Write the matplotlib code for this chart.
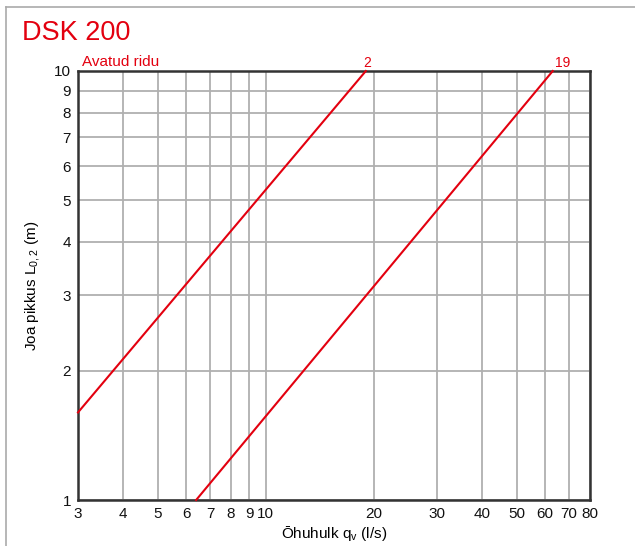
import matplotlib
matplotlib.use("Agg")
import matplotlib.pyplot as plt
from matplotlib.lines import Line2D

plt.rcParams['font.family'] = ['Liberation Sans', 'DejaVu Sans']

# Data: line endpoints (q in l/s, L in m)
series_labels = ["2", "19"]
line2_q = [3.0, 19.0]
line2_L = [1.6, 10.0]
line19_q = [6.4, 63.0]
line19_L = [1.0, 10.0]

x_ticks = [3, 4, 5, 6, 7, 8, 9, 10, 20, 30, 40, 50, 60, 70, 80]
y_ticks = [1, 2, 3, 4, 5, 6, 7, 8, 9, 10]

red = "#e3000f"

fig = plt.figure(figsize=(6.35, 5.46), dpi=100)
ax = fig.add_axes([78/635, 46/546, (590-78)/635, (500-71)/546])
ax.set_xscale('log')
ax.set_yscale('log')
ax.set_xlim(3, 80)
ax.set_ylim(1, 10)

ax.set_xticks(x_ticks)
ax.set_xticklabels([str(t) for t in x_ticks])
ax.set_xticks([], minor=True)
ax.set_yticks(y_ticks)
ax.set_yticklabels([str(t) for t in y_ticks])
ax.set_yticks([], minor=True)
ax.tick_params(length=0, labelsize=11, colors="#111111", pad=5)
ax.grid(True, color="#b0b0b0", linewidth=1.3)
ax.set_axisbelow(True)
for s in ax.spines.values():
    s.set_color("#333333")
    s.set_linewidth(1.8)

ax.plot(line2_q, line2_L, color=red, linewidth=1.5, clip_on=False, zorder=3)
ax.plot(line19_q, line19_L, color=red, linewidth=1.5, clip_on=False, zorder=3)
ax.annotate(series_labels[0], (line2_q[-1], line2_L[-1]), xytext=(1, 1),
            textcoords='offset points', color=red, fontsize=10, ha='center', va='bottom')
ax.annotate(series_labels[1], (line19_q[-1], line19_L[-1]), xytext=(7, 1),
            textcoords='offset points', color=red, fontsize=10, ha='center', va='bottom')

ax.set_xlabel("Ōhuhulk q$_\\mathregular{v}$ (l/s)", fontsize=11, labelpad=2)
ax.set_ylabel("Joa pikkus L$_\\mathregular{0,2}$ (m)", fontsize=11, labelpad=8)

fig.text(22/635, 1 - 33/546, "DSK 200", color=red, fontsize=19.5, ha='left', va='center')
fig.text(82/635, 1 - 62/546, "Avatud ridu", color=red, fontsize=11, ha='left', va='center')

fig.add_artist(Line2D([6/635, 1], [1 - 7/546, 1 - 7/546], color="#aaaaaa", linewidth=1.2,
                      transform=fig.transFigure))
fig.add_artist(Line2D([6/635, 6/635], [0, 1 - 7/546], color="#aaaaaa", linewidth=1.2,
                      transform=fig.transFigure))

fig.savefig("out.png", dpi=100)
